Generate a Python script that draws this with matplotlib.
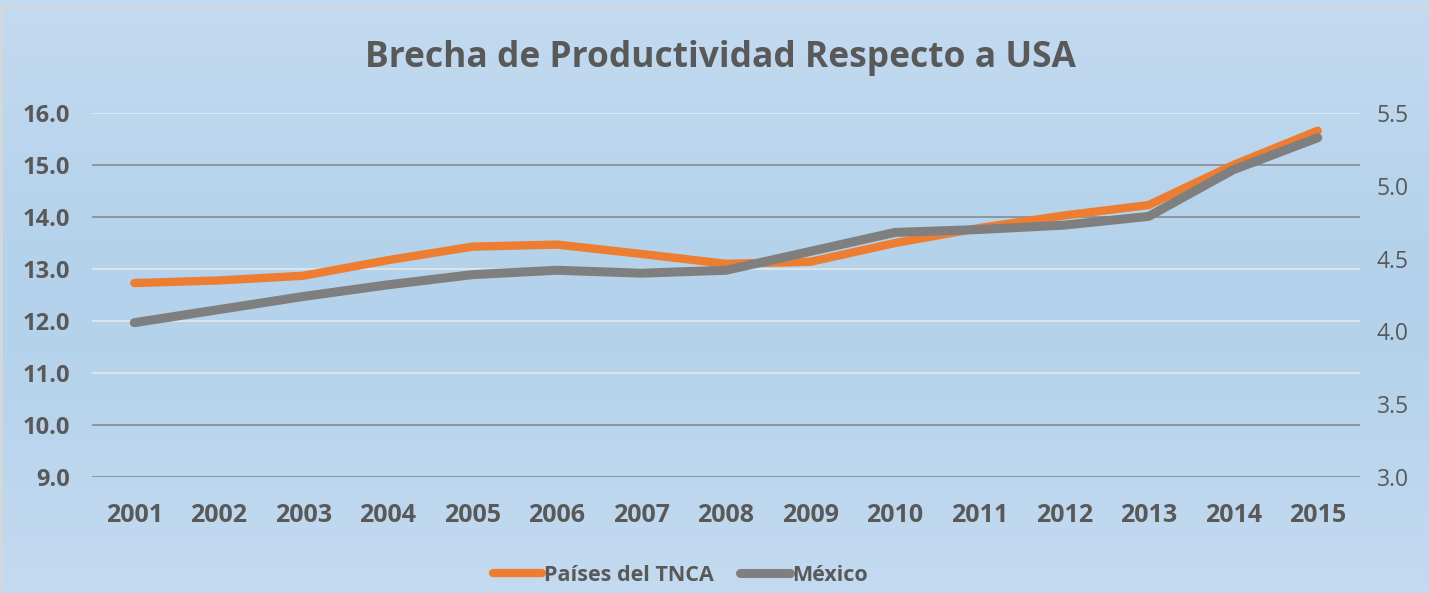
import numpy as np
import matplotlib
matplotlib.use('Agg')
import matplotlib.pyplot as plt
from matplotlib.patches import Rectangle

years = ['2001', '2002', '2003', '2004', '2005', '2006', '2007', '2008',
         '2009', '2010', '2011', '2012', '2013', '2014', '2015']
tnca = [12.73, 12.78, 12.87, 13.17, 13.43, 13.47, 13.29, 13.10,
        13.14, 13.50, 13.79, 14.03, 14.23, 15.00, 15.66]
mexico = [4.06, 4.15, 4.24, 4.32, 4.39, 4.42, 4.40, 4.42,
          4.55, 4.68, 4.70, 4.73, 4.79, 5.11, 5.33]
left_ticks = [9.0, 10.0, 11.0, 12.0, 13.0, 14.0, 15.0, 16.0]
right_ticks = [3.0, 3.5, 4.0, 4.5, 5.0, 5.5]
dark_grid = [9.0, 10.0, 14.0, 15.0]

plt.rcParams['font.family'] = ['Open Sans', 'DejaVu Sans']
txt = '#595959'

fig = plt.figure(figsize=(14.29, 5.93), dpi=100)

# background gradient
bg = fig.add_axes([0, 0, 1, 1], zorder=-10)
t = np.linspace(0, 1, 256)
prof = 1 - np.exp(-((t - 0.5) / 0.45) ** 2) * 0.9
top = np.array([0.79, 0.87, 0.95])
mid = np.array([0.70, 0.82, 0.92])
grad = mid[None, :] + (top - mid)[None, :] * prof[:, None]
bg.imshow(grad[:, None, :], aspect='auto', extent=[0, 1, 0, 1])
bg.set_xlim(0, 1)
bg.set_ylim(0, 1)
bg.axis('off')
fig.patches.append(Rectangle((0.001, -0.01), 1.1, 0.999, transform=fig.transFigure,
                             fill=False, edgecolor='#d4d8dc', linewidth=2))

ax = fig.add_axes([0.0644, 0.1956, 0.8873, 0.6138])
ax.patch.set_alpha(0)
x = np.arange(len(years))

for v in left_ticks:
    if v in dark_grid:
        ax.axhline(v, color='#8a9098', linewidth=1.3, zorder=1)
    else:
        ax.axhline(v, color='#dfe6ec', linewidth=1.3, zorder=1)

l1, = ax.plot(x, tnca, color='#ED7D31', linewidth=6, solid_capstyle='round',
              zorder=3, label='Países del TNCA')
ax.set_xlim(-0.5, len(years) - 0.5)
ax.set_ylim(9, 16)
ax.set_yticks(left_ticks)
ax.set_yticklabels(['%.1f' % v for v in left_ticks])
ax.set_xticks(x)
ax.set_xticklabels(years)
for s in ax.spines.values():
    s.set_visible(False)
ax.tick_params(axis='both', length=0, colors=txt)
ax.tick_params(axis='y', pad=16, labelsize=17)
ax.tick_params(axis='x', pad=19, labelsize=18)
for lb in ax.get_xticklabels() + ax.get_yticklabels():
    lb.set_fontweight('bold')

ax2 = ax.twinx()
ax2.patch.set_alpha(0)
l2, = ax2.plot(x, mexico, color='#7F7F7F', linewidth=6.5, solid_capstyle='round',
               zorder=4, label='México')
ax2.set_ylim(3.0, 5.5)
ax2.set_yticks(right_ticks)
ax2.set_yticklabels(['%.1f' % v for v in right_ticks])
for s in ax2.spines.values():
    s.set_visible(False)
ax2.tick_params(axis='y', length=0, colors=txt, labelsize=16.5, pad=12)

fig.text(0.504, 0.903, 'Brecha de Productividad Respecto a USA', ha='center',
         va='center', fontsize=25.5, fontweight='bold', color=txt)

leg = fig.legend(handles=[l1, l2], loc='center', bbox_to_anchor=(0.476, 0.03),
                 ncol=2, frameon=False, fontsize=15.5, handlelength=2.3,
                 handletextpad=0.1, columnspacing=1.2)
for tx in leg.get_texts():
    tx.set_color(txt)
    tx.set_fontweight('bold')

fig.savefig('out.png', dpi=100)
